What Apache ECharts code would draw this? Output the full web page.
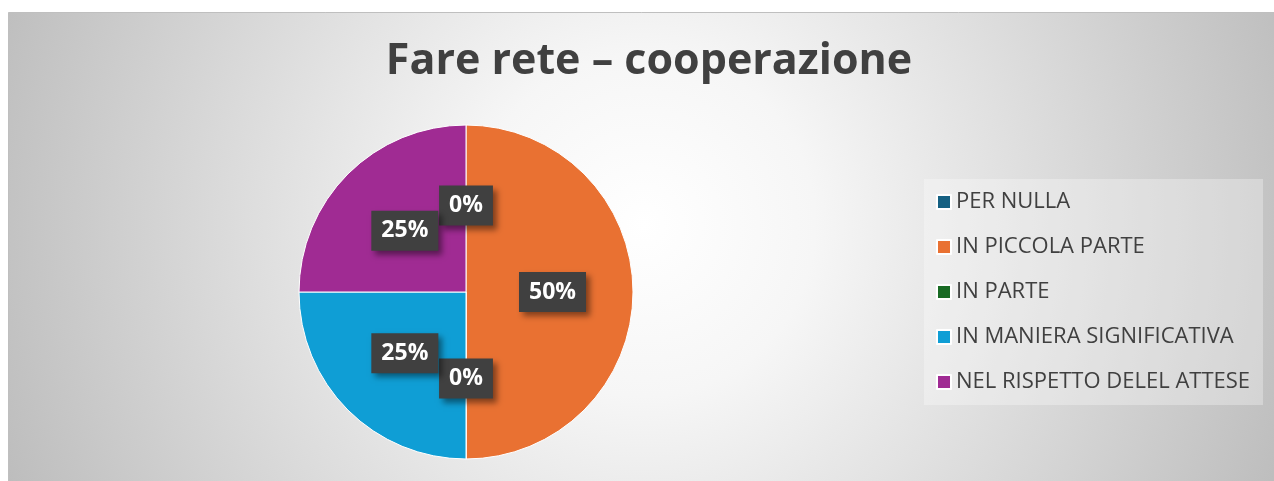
<!doctype html>
<html>
<head>
<meta charset="utf-8">
<title>Fare rete – cooperazione</title>
<script src="https://cdn.jsdelivr.net/npm/echarts@6/dist/echarts.min.js"></script>
<style>
  html, body { margin: 0; padding: 0; background: #fff; }
  #chart { width: 1274px; height: 481px; }
</style>
</head>
<body>
<div id="chart"></div>
<script>
// dati
var categorie = ['PER NULLA', 'IN PICCOLA PARTE', 'IN PARTE', 'IN MANIERA SIGNIFICATIVA', 'NEL RISPETTO DELEL ATTESE'];
var valori = [0, 50, 0, 25, 25];
var colori = ['#156082', '#E97132', '#196B24', '#0F9ED5', '#A02B93'];

var chart = echarts.init(document.getElementById('chart'));

var option = {
  animation: false,
  graphic: [{
    type: 'rect',
    z: -10,
    silent: true,
    shape: { x: 8.5, y: 12.5, width: 1270, height: 472 },
    style: {
      fill: {
        type: 'radial', x: 0.5, y: 0.45, r: 1.45,
        colorStops: [
          { offset: 0, color: '#ffffff' },
          { offset: 0.25, color: '#f6f6f6' },
          { offset: 1, color: '#bdbdbd' }
        ]
      },
      stroke: '#bfbfbf',
      lineWidth: 1
    }
  }],
  title: {
    text: 'Fare rete – cooperazione',
    left: 644,
    textAlign: 'center',
    top: 35,
    textStyle: {
      fontFamily: 'Open Sans',
      fontSize: 43,
      fontWeight: 'bold',
      color: '#404040'
    }
  },
  legend: {
    orient: 'vertical',
    left: 924,
    top: 179,
    padding: [12, 13, 12, 12],
    backgroundColor: 'rgba(255,255,255,0.3)',
    itemGap: 23,
    itemWidth: 14,
    itemHeight: 14,
    icon: 'rect',
    data: categorie,
    textStyle: {
      fontFamily: 'Open Sans',
      fontSize: 22,
      lineHeight: 22,
      color: '#404040'
    }
  },
  series: [{
    type: 'pie',
    center: [466, 292],
    radius: 167,
    startAngle: 90,
    clockwise: true,
    avoidLabelOverlap: false,
    itemStyle: { borderColor: '#ffffff', borderWidth: 1 },
    label: {
      show: true,
      position: 'inside',
      formatter: '{c}%',
      fontFamily: 'Open Sans',
      fontSize: 23,
      fontWeight: 'bold',
      color: '#ffffff',
      backgroundColor: '#404040',
      padding: [10, 10, 7, 10],
      shadowColor: 'rgba(0,0,0,0.45)',
      shadowBlur: 6,
      shadowOffsetX: 4,
      shadowOffsetY: 4
    },
    labelLine: { show: false },
    emphasis: { disabled: true },
    data: categorie.map(function (nome, i) {
      return { name: nome, value: valori[i], itemStyle: { color: colori[i] } };
    })
  }]
};

chart.setOption(option);
</script>
</body>
</html>
